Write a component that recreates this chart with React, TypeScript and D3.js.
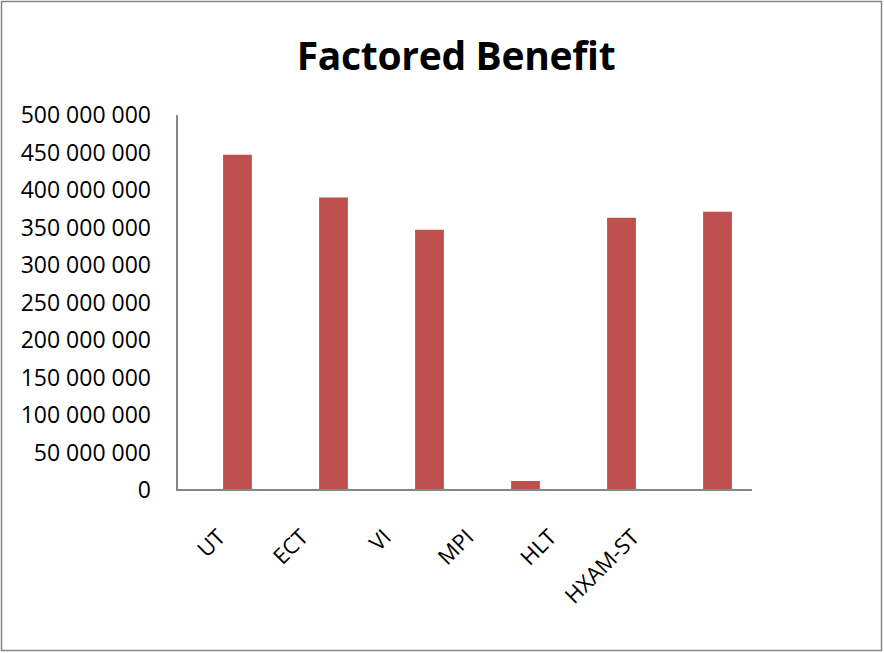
import React, { useEffect, useRef } from 'react'
import * as d3 from 'd3'

const categories = ['UT', 'ECT', 'VI', 'MPI', 'HLT', 'HXAM-ST']
const benefit = [447000000, 390000000, 347000000, 12000000, 363000000, 371000000]
const yTicks = [0, 50e6, 100e6, 150e6, 200e6, 250e6, 300e6, 350e6, 400e6, 450e6, 500e6]

const fmt = (v: number) => d3.format(',')(v).replace(/,/g, ' ')

const App = () => {
  const svgRef = useRef<SVGSVGElement>(null)

  useEffect(() => {
    const width = 884
    const height = 653
    const svg = d3.select(svgRef.current)
    svg.selectAll('*').remove()
    svg.attr('width', width).attr('height', height).style('background', '#fff')

    const font = "'Open Sans', sans-serif"

    // chart border
    svg
      .append('rect')
      .attr('x', 1.5)
      .attr('y', 1.5)
      .attr('width', width - 4)
      .attr('height', height - 4)
      .attr('fill', 'none')
      .attr('stroke', '#878787')
      .attr('stroke-width', 1.5)

    svg
      .append('text')
      .attr('x', 456)
      .attr('y', 70)
      .attr('text-anchor', 'middle')
      .style('font-family', font)
      .style('font-weight', 'bold')
      .style('font-size', '39px')
      .style('letter-spacing', '-0.3px')
      .text('Factored Benefit')

    const x = d3.scaleBand().domain(categories).range([177, 778]).paddingInner(0.7).paddingOuter(0.48)
    const y = d3.scaleLinear().domain([0, 500e6]).range([490, 115])

    // labels are laid out slightly narrower than the bars in the original
    const xl = d3.scalePoint().domain(categories).range([215, 629])

    svg
      .selectAll('rect.bar')
      .data(benefit)
      .enter()
      .append('rect')
      .attr('class', 'bar')
      .attr('x', (d, i) => x(categories[i])!)
      .attr('y', (d) => y(d))
      .attr('width', x.bandwidth())
      .attr('height', (d) => y(0) - y(d))
      .attr('fill', '#C0504D')

    svg
      .append('line')
      .attr('x1', 177)
      .attr('x2', 177)
      .attr('y1', y(500e6))
      .attr('y2', y(0))
      .attr('stroke', '#868686')
      .attr('stroke-width', 2)
    svg
      .append('line')
      .attr('x1', 176)
      .attr('x2', 752)
      .attr('y1', y(0))
      .attr('y2', y(0))
      .attr('stroke', '#868686')
      .attr('stroke-width', 2)

    svg
      .selectAll('text.ytick')
      .data(yTicks)
      .enter()
      .append('text')
      .attr('class', 'ytick')
      .attr('x', 151)
      .attr('y', (d) => y(d))
      .attr('dy', '0.36em')
      .attr('text-anchor', 'end')
      .style('font-family', font)
      .style('font-size', '23px')
      .text((d) => fmt(d))

    svg
      .selectAll('text.xtick')
      .data(categories)
      .enter()
      .append('text')
      .attr('class', 'xtick')
      .attr('transform', (d) => `translate(${xl(d)}, 527) rotate(-45)`)
      .attr('dy', '0.75em')
      .attr('text-anchor', 'end')
      .style('font-family', font)
      .style('font-size', '22px')
      .text((d) => d)
  }, [])

  return (
    <div style={{ position: 'fixed', left: 0, top: 0 }}>
      <svg ref={svgRef}></svg>
    </div>
  )
}

export default App
